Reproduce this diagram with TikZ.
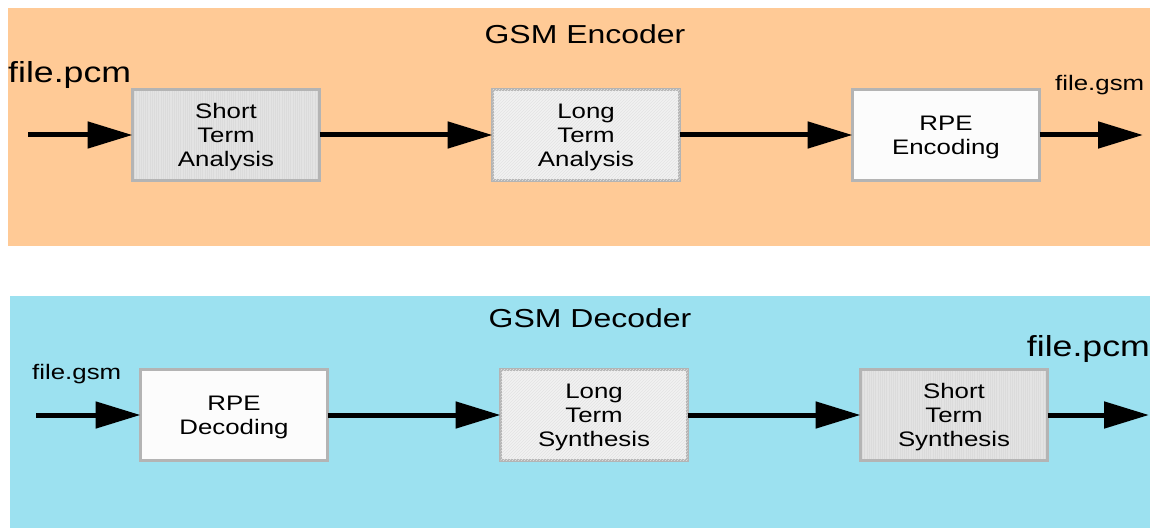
\documentclass[tikz,border=0pt]{standalone}
\usepackage{fontspec}
\setmainfont[FakeStretch=1.23]{Liberation Sans}
\usetikzlibrary{arrows.meta,patterns}
\definecolor{encbg}{HTML}{FFCA96}
\definecolor{decbg}{HTML}{9CE1F0}
\definecolor{boxline}{HTML}{B4B4B4}
\begin{document}
\begin{tikzpicture}[x=1pt,y=-1pt,
  blk/.style={draw=boxline,line width=3pt,minimum width=187pt,minimum height=91pt,
    align=center,font=\fontsize{21}{24}\selectfont,anchor=north west,inner sep=0pt,outer sep=0pt,
    text depth=5pt},
  three/.style={text height=68pt},
  two/.style={text height=44pt},
  shortblk/.style={blk,three,fill=gray!22,path picture={
    \foreach \i in {0,2.2,...,200}{\draw[white!72!gray,line width=0.9pt]
      ([xshift=\i pt]path picture bounding box.south west) -- ([xshift=\i pt]path picture bounding box.north west);}}},
  longblk/.style={blk,three,fill=gray!10,postaction={pattern=north east lines,pattern color=gray!22}},
  rpeblk/.style={blk,two,fill=white!98!gray},
  flow/.style={line width=5pt,-{Triangle[length=45pt,width=26pt]}},
  title/.style={font=\fontsize{26}{30}\selectfont},
  bigfile/.style={font=\fontsize{29}{33}\selectfont},
  smallfile/.style={font=\fontsize{21}{24}\selectfont}]
\useasboundingbox (0,0) rectangle (1153,529);
\fill[encbg] (8,8) rectangle (1150,246);
\fill[decbg] (10,296) rectangle (1150,528);
\node[title] (enct) at (585,34) {GSM Encoder};
\node[title] (dect) at (590,318) {GSM Decoder};
% encoder
\node[shortblk] (sta) at (132.5,89.5) {Short\\Term\\Analysis};
\node[longblk] (lta) at (492.5,89.5) {Long\\Term\\Analysis};
\node[rpeblk] (rpe) at (852.5,89.5) {RPE\\Encoding};
\node[bigfile,anchor=west,inner sep=0pt] (fin) at (8,75) {file.pcm};
\node[smallfile,anchor=west,inner sep=0pt] (fout) at (1055,85) {file.gsm};
\coordinate (ein) at (28,135);
\coordinate (eout) at (1143,135);
\draw[flow] (ein) -- (ein -| sta.west);
\draw[flow] (sta.east) -- (lta.west);
\draw[flow] (lta.east) -- (rpe.west);
\draw[flow] (rpe.east) -- (eout);
% decoder
\node[rpeblk] (rpd) at (140.5,369.5) {RPE\\Decoding};
\node[longblk] (lts) at (500.5,369.5) {Long\\Term\\Synthesis};
\node[shortblk] (sts) at (860.5,369.5) {Short\\Term\\Synthesis};
\node[smallfile,anchor=west,inner sep=0pt] (din) at (32,374) {file.gsm};
\node[bigfile,anchor=east,inner sep=0pt] (dout) at (1150,349) {file.pcm};
\coordinate (dinc) at (36,415);
\coordinate (doutc) at (1149,415);
\draw[flow] (dinc) -- (dinc -| rpd.west);
\draw[flow] (rpd.east) -- (lts.west);
\draw[flow] (lts.east) -- (sts.west);
\draw[flow] (sts.east) -- (doutc);
\end{tikzpicture}
\end{document}
